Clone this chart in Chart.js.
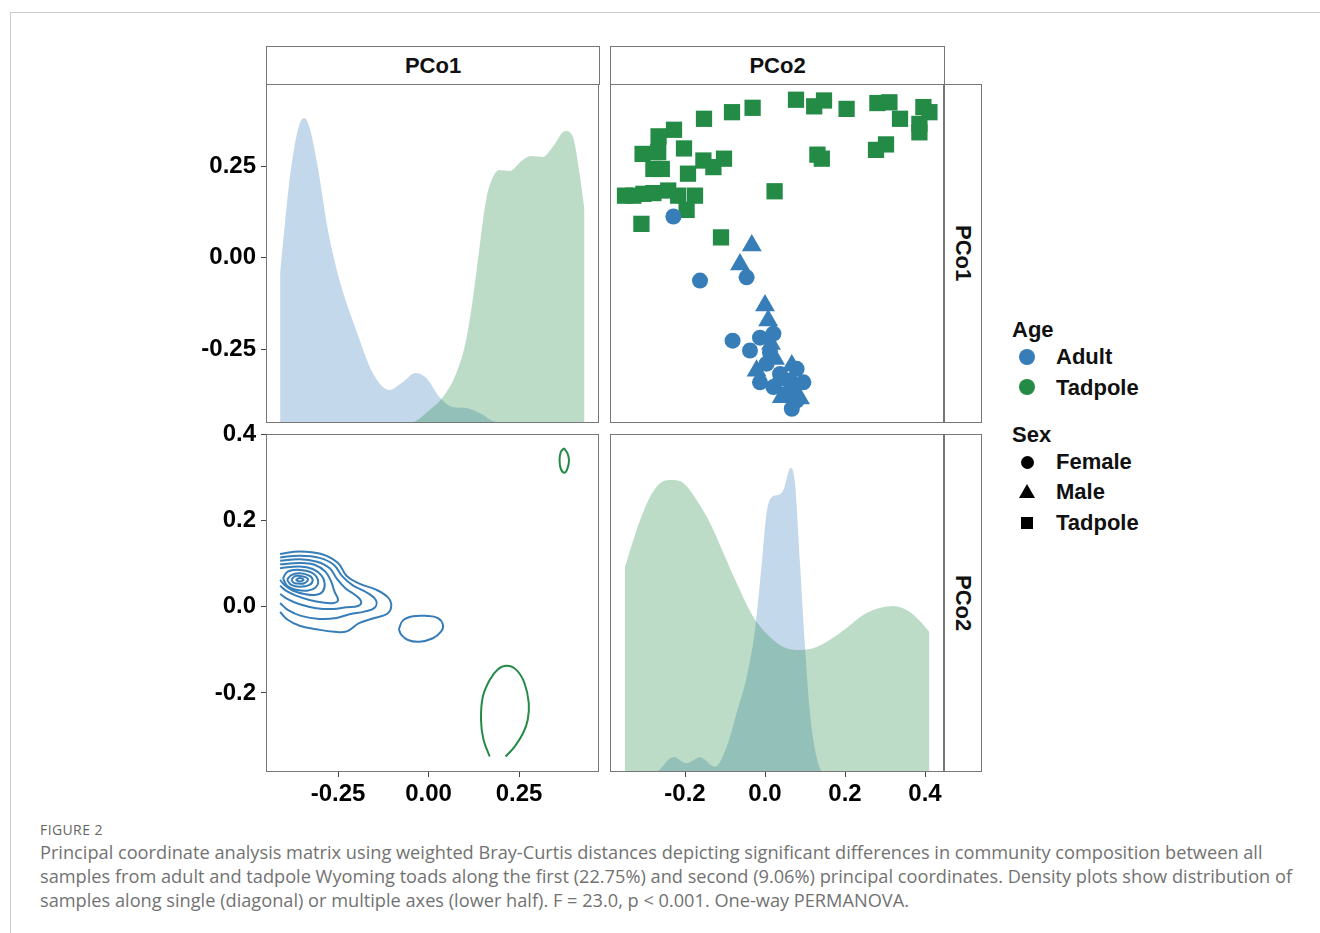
<!DOCTYPE html>
<html lang="en">
<head>
<meta charset="UTF-8">
<title>Figure 2 - PCoA matrix</title>
<script src="https://cdn.jsdelivr.net/npm/chart.js@4"></script>
<style>
  body { margin: 0; background: #fff; font-family: "Liberation Sans", Arial, sans-serif; }
  #page { position: relative; width: 1320px; height: 933px; overflow: hidden; }
  .outer { position: absolute; left: 10px; top: 12px; width: 1320px; height: 940px;
           border-left: 1px solid #cbcbcb; border-top: 1px solid #cbcbcb; }
  canvas { position: absolute; }
  .strip { position: absolute; box-sizing: border-box; border: 1px solid #777; background: #fff;
           font-weight: bold; font-size: 22px; color: #111;
           display: flex; align-items: center; justify-content: center; }
  .strip.side span { writing-mode: vertical-rl; }
  .leg { position: absolute; font-weight: bold; font-size: 22px; line-height: 26px; color: #111; white-space: nowrap; }
  .sym { position: absolute; }
  .caption { position: absolute; left: 40px; font-family: "Open Sans", sans-serif; color: #727272; white-space: nowrap; }
</style>
</head>
<body>
<div id="page">
  <div class="outer"></div>

  <canvas id="cTL"></canvas>
  <canvas id="cTR"></canvas>
  <canvas id="cBL"></canvas>
  <canvas id="cBR"></canvas>

  <div class="strip" style="left:266px;top:46px;width:334px;height:39px">PCo1</div>
  <div class="strip" style="left:610px;top:46px;width:335px;height:39px">PCo2</div>
  <div class="strip side" style="left:944px;top:84px;width:38px;height:339px"><span>PCo1</span></div>
  <div class="strip side" style="left:944px;top:434px;width:38px;height:338px"><span>PCo2</span></div>

  <!-- legend -->
  <div class="leg" style="left:1012px;top:317px">Age</div>
  <div class="sym" style="left:1019px;top:349px;width:16px;height:16px;border-radius:50%;background:#377EB8"></div>
  <div class="leg" style="left:1056px;top:344px">Adult</div>
  <div class="sym" style="left:1019px;top:379px;width:16px;height:16px;border-radius:50%;background:#238B45"></div>
  <div class="leg" style="left:1056px;top:375px">Tadpole</div>

  <div class="leg" style="left:1012px;top:422px">Sex</div>
  <div class="sym" style="left:1021px;top:456px;width:13px;height:13px;border-radius:50%;background:#000"></div>
  <div class="leg" style="left:1056px;top:449px">Female</div>
  <div class="sym" style="left:1019px;top:484px;width:0;height:0;border-left:8px solid transparent;border-right:8px solid transparent;border-bottom:14px solid #000"></div>
  <div class="leg" style="left:1056px;top:479px">Male</div>
  <div class="sym" style="left:1021px;top:517px;width:12px;height:12px;background:#000"></div>
  <div class="leg" style="left:1056px;top:510px">Tadpole</div>

  <div class="caption" style="top:820px;font-size:14px;letter-spacing:0.4px;color:#666">FIGURE 2</div>
  <div class="caption" style="top:840px;font-size:18.2px;line-height:24px">
    Principal coordinate analysis matrix using weighted Bray-Curtis distances depicting significant differences in community composition between all<br>
    samples from adult and tadpole Wyoming toads along the first (22.75%) and second (9.06%) principal coordinates. Density plots show distribution of<br>
    samples along single (diagonal) or multiple axes (lower half). F = 23.0, p &lt; 0.001. One-way PERMANOVA.
  </div>
</div>

<script>
  // axis ranges and ticks
  const pco1Range = [-0.449, 0.471];
  const pco1RangeY = [-0.452, 0.474];
  const pco2Range = [-0.3875, 0.4475];
  const pco2RangeY = [-0.384, 0.402];
  const pco1Ticks = [-0.25, 0, 0.25];
  const pco1Labels = ['-0.25', '0.00', '0.25'];
  const pco2Ticks = [-0.2, 0, 0.2, 0.4];
  const pco2Labels = ['-0.2', '0.0', '0.2', '0.4'];

  // densities [value, density]
  const pco1AdultDens = [[-0.410,1.50],[-0.384,2.43],[-0.361,2.93],[-0.344,3.05],[-0.329,2.96],[-0.306,2.56],
    [-0.278,1.93],[-0.246,1.43],[-0.200,0.93],[-0.154,0.50],[-0.108,0.33],[-0.071,0.41],[-0.036,0.50],
    [-0.006,0.45],[0.030,0.26],[0.067,0.16],[0.104,0.15],[0.141,0.10],[0.187,0.01],[0.25,0],[0.431,0]];
  const pco1TadpoleDens = [[-0.410,0],[-0.052,0],[0.003,0.13],[0.040,0.26],[0.077,0.50],[0.104,0.83],
    [0.122,1.23],[0.141,1.76],[0.159,2.23],[0.178,2.46],[0.196,2.53],[0.224,2.52],[0.260,2.63],[0.284,2.67],
    [0.316,2.66],[0.343,2.76],[0.378,2.92],[0.399,2.86],[0.417,2.50],[0.431,2.13]];
  const pco2AdultDens = [[-0.35,0],[-0.275,0],[-0.229,0.15],[-0.196,0.087],[-0.1625,0.147],[-0.125,0.053],
    [-0.096,0.25],[-0.071,0.59],[-0.046,0.95],[-0.025,1.42],[-0.008,2.09],[0.004,2.59],[0.017,2.75],
    [0.033,2.77],[0.046,2.82],[0.064,3.04],[0.075,2.89],[0.0875,2.09],[0.1,1.25],[0.1125,0.59],
    [0.129,0.15],[0.146,0],[0.411,0]];
  const pco2TadpoleDens = [[-0.35,2.05],[-0.321,2.42],[-0.2875,2.75],[-0.258,2.90],[-0.233,2.92],
    [-0.204,2.89],[-0.171,2.72],[-0.1375,2.49],[-0.104,2.19],[-0.071,1.89],[-0.029,1.55],[0.0125,1.35],
    [0.046,1.25],[0.0875,1.22],[0.129,1.25],[0.1875,1.39],[0.254,1.59],[0.321,1.66],[0.3625,1.60],
    [0.392,1.49],[0.411,1.40]];

  // scatter points [PCo2, PCo1]
  const tadpolePts = [[0.0775,0.431],[0.1475,0.429],[0.123,0.413],[0.204,0.406],[0.281,0.422],[0.311,0.424],
    [0.3375,0.379],[0.396,0.411],[0.411,0.397],[0.386,0.365],[0.386,0.342],[-0.031,0.409],[-0.0825,0.397],
    [-0.1525,0.379],[-0.2275,0.349],[-0.266,0.331],[-0.2025,0.298],[-0.306,0.283],[-0.267,0.288],
    [-0.279,0.242],[-0.258,0.242],[-0.154,0.265],[-0.1025,0.270],[-0.129,0.247],[-0.1925,0.229],
    [0.131,0.281],[0.142,0.270],[0.2775,0.294],[0.3025,0.309],[-0.35,0.169],[-0.329,0.169],[-0.304,0.174],
    [-0.279,0.176],[-0.242,0.183],[-0.217,0.169],[-0.175,0.169],[-0.196,0.130],[0.024,0.181],
    [-0.309,0.092],[-0.11,0.055]];
  const femalePts = [[-0.229,0.112],[-0.1625,-0.063],[-0.046,-0.054],[-0.081,-0.227],[-0.0375,-0.254],
    [-0.0125,-0.219],[0.021,-0.208],[0.079,-0.304],[0.096,-0.341],[-0.0125,-0.341],[0.021,-0.354],
    [0.067,-0.413],[0.079,-0.391],[0.054,-0.372],[0.004,-0.290],[0.0375,-0.318],[0.0125,-0.260],[0.0625,-0.336]];
  const malePts = [[-0.033,0.033],[-0.0625,-0.019],[0.0,-0.131],[0.008,-0.172],[0.015,-0.236],[0.025,-0.277],
    [-0.021,-0.309],[0.067,-0.295],[0.042,-0.382],[0.071,-0.363],[0.0875,-0.385],[0.0325,-0.336]];

  // 2d density contour lines [PCo1, PCo2]
  const adultContours = [
    [[-0.410,0.123],[-0.356,0.129],[-0.296,0.123],[-0.250,0.102],[-0.226,0.072],[-0.191,0.054],[-0.145,0.040],
     [-0.112,0.022],[-0.103,0.002],[-0.114,-0.016],[-0.149,-0.026],[-0.192,-0.038],[-0.226,-0.057],
     [-0.260,-0.058],[-0.310,-0.052],[-0.356,-0.044],[-0.389,-0.030],[-0.410,-0.012]],
    [[-0.410,0.115],[-0.356,0.119],[-0.301,0.114],[-0.262,0.098],[-0.238,0.071],[-0.209,0.050],[-0.172,0.034],
     [-0.145,0.015],[-0.149,-0.002],[-0.177,-0.011],[-0.218,-0.017],[-0.255,-0.026],[-0.301,-0.028],
     [-0.352,-0.021],[-0.389,-0.007],[-0.410,0.009]],
    [[-0.410,0.107],[-0.356,0.111],[-0.308,0.105],[-0.273,0.090],[-0.253,0.065],[-0.229,0.043],[-0.200,0.026],
     [-0.186,0.012],[-0.195,0.002],[-0.226,-0.001],[-0.264,-0.005],[-0.310,-0.003],[-0.356,0.006],
     [-0.389,0.018],[-0.410,0.030]],
    [[-0.410,0.099],[-0.356,0.102],[-0.315,0.098],[-0.285,0.082],[-0.269,0.059],[-0.260,0.036],[-0.250,0.016],
     [-0.262,0.009],[-0.292,0.010],[-0.329,0.016],[-0.366,0.026],[-0.393,0.037],[-0.410,0.049]],
    [[-0.410,0.090],[-0.356,0.094],[-0.320,0.088],[-0.296,0.073],[-0.287,0.055],[-0.292,0.036],[-0.310,0.028],
     [-0.343,0.030],[-0.375,0.038],[-0.398,0.051],[-0.410,0.063]],
    [[-0.402,0.067],[-0.389,0.082],[-0.356,0.086],[-0.324,0.080],[-0.306,0.064],[-0.310,0.047],[-0.333,0.038],
     [-0.366,0.040],[-0.391,0.049],[-0.402,0.067]],
    [[-0.391,0.063],[-0.379,0.074],[-0.356,0.078],[-0.331,0.073],[-0.320,0.063],[-0.329,0.051],[-0.356,0.047],
     [-0.379,0.051],[-0.391,0.063]],
    [[-0.379,0.063],[-0.370,0.071],[-0.356,0.072],[-0.340,0.069],[-0.333,0.063],[-0.343,0.055],[-0.356,0.054],
     [-0.372,0.056],[-0.379,0.063]],
    [[-0.367,0.063],[-0.356,0.067],[-0.345,0.063],[-0.356,0.059],[-0.367,0.063]],
    [[-0.082,-0.052],[-0.071,-0.032],[-0.043,-0.022],[-0.006,-0.021],[0.026,-0.026],[0.040,-0.042],
     [0.035,-0.057],[0.012,-0.073],[-0.025,-0.081],[-0.057,-0.077],[-0.075,-0.065],[-0.082,-0.052]]
  ];
  const tadpoleContours = [
    [[0.374,0.369],[0.384,0.357],[0.388,0.340],[0.384,0.322],[0.376,0.312],[0.366,0.320],[0.362,0.340],
     [0.365,0.359],[0.374,0.369]],
    [[0.169,-0.348],[0.152,-0.309],[0.145,-0.263],[0.150,-0.209],[0.169,-0.170],[0.192,-0.145],[0.216,-0.137],
     [0.242,-0.146],[0.265,-0.177],[0.277,-0.224],[0.274,-0.263],[0.261,-0.294],[0.238,-0.325],[0.213,-0.348]]
  ];

  const ADULT = '#377EB8', TADPOLE = '#238B45';
  const ADULT_FILL = 'rgba(55,126,184,0.3)', TADPOLE_FILL = 'rgba(35,139,69,0.3)';
  const PAD = 20, YAXIS = 70, XAXIS = 40;
  const tickFont = { family: 'Liberation Sans', size: 24, weight: 'bold' };

  const toXY = arr => arr.map(p => ({ x: p[0], y: p[1] }));

  // panel border like ggplot theme_bw
  const framePlugin = {
    id: 'frame',
    afterDatasetsDraw(chart) {
      const a = chart.chartArea, ctx = chart.ctx;
      ctx.save();
      ctx.strokeStyle = '#777';
      ctx.lineWidth = 1;
      ctx.strokeRect(a.left + 0.5, a.top + 0.5, a.width - 1, a.height - 1);
      ctx.restore();
    }
  };

  function hidden(min, max, axis) {
    return { type: 'linear', axis: axis, display: false, min: min, max: max };
  }

  function shown(range, ticks, labels, position) {
    const isX = position === 'bottom';
    return {
      type: 'linear', position: position, axis: isX ? 'x' : 'y', min: range[0], max: range[1],
      afterBuildTicks: s => { s.ticks = ticks.map(v => ({ value: v })); },
      afterFit: s => { if (isX) s.height = XAXIS; else s.width = YAXIS; },
      ticks: { font: tickFont, color: '#000', padding: isX ? 3 : 5, maxRotation: 0,
               callback: (v, i) => labels[i] },
      grid: { drawOnChartArea: false, drawTicks: true, tickLength: 5, color: '#444', tickColor: '#444' },
      border: { display: false }
    };
  }

  // place the canvas so that its chart area lands on the panel box
  function makeChart(id, box, hasY, hasX, config) {
    const c = document.getElementById(id);
    const w = box[2] - box[0] + 2 * PAD + (hasY ? YAXIS : 0);
    const h = box[3] - box[1] + 2 * PAD + (hasX ? XAXIS : 0);
    c.width = w; c.height = h;
    c.style.left = (box[0] - PAD - (hasY ? YAXIS : 0)) + 'px';
    c.style.top = (box[1] - PAD) + 'px';
    c.style.width = w + 'px'; c.style.height = h + 'px';
    config.options = Object.assign({
      responsive: false, animation: false, devicePixelRatio: 1, events: [],
      layout: { padding: PAD },
      plugins: { legend: { display: false }, tooltip: { enabled: false } }
    }, config.options);
    config.plugins = [framePlugin];
    return new Chart(c, config);
  }

  function densSet(data, fill) {
    return { data: toXY(data), yAxisID: 'yd', fill: 'origin', backgroundColor: fill, borderWidth: 0,
             pointRadius: 0, cubicInterpolationMode: 'monotone' };
  }

  // top-left: PCo1 density
  makeChart('cTL', [266, 84, 599, 423], true, false, {
    type: 'line',
    data: { datasets: [densSet(pco1TadpoleDens, TADPOLE_FILL), densSet(pco1AdultDens, ADULT_FILL)] },
    options: { scales: {
      x: hidden(pco1Range[0], pco1Range[1], 'x'),
      yd: hidden(0, 3.39, 'y'),
      y: shown(pco1RangeY, pco1Ticks, pco1Labels, 'left')
    } }
  });

  // top-right: PCo2 vs PCo1 scatter
  makeChart('cTR', [610, 84, 944, 423], false, false, {
    type: 'scatter',
    data: { datasets: [
      { label: 'Female', data: toXY(femalePts), pointStyle: 'circle', pointRadius: 8, backgroundColor: ADULT, borderWidth: 0 },
      { label: 'Male', data: toXY(malePts), pointStyle: 'triangle', pointRadius: 11.5, backgroundColor: ADULT, borderWidth: 0 },
      { label: 'Tadpole', data: toXY(tadpolePts), pointStyle: 'rect', pointRadius: 11.5, backgroundColor: TADPOLE, borderWidth: 0 }
    ] },
    options: { scales: {
      x: hidden(pco2Range[0], pco2Range[1], 'x'),
      y: hidden(pco1RangeY[0], pco1RangeY[1], 'y')
    } }
  });

  // bottom-left: 2d density contours
  const contourSets = [];
  adultContours.forEach(p => contourSets.push({ data: toXY(p), borderColor: ADULT, borderWidth: 2, pointRadius: 0, showLine: true, tension: 0.4, fill: false }));
  tadpoleContours.forEach(p => contourSets.push({ data: toXY(p), borderColor: TADPOLE, borderWidth: 2, pointRadius: 0, showLine: true, tension: 0.4, fill: false }));
  makeChart('cBL', [266, 434, 599, 772], true, true, {
    type: 'scatter',
    data: { datasets: contourSets },
    options: { scales: {
      x: shown(pco1Range, pco1Ticks, pco1Labels, 'bottom'),
      y: shown(pco2RangeY, pco2Ticks, pco2Labels, 'left')
    } }
  });

  // bottom-right: PCo2 density
  makeChart('cBR', [610, 434, 944, 772], false, true, {
    type: 'line',
    data: { datasets: [densSet(pco2TadpoleDens, TADPOLE_FILL), densSet(pco2AdultDens, ADULT_FILL)] },
    options: { scales: {
      x: shown(pco2Range, pco2Ticks, pco2Labels, 'bottom'),
      yd: hidden(0, 3.38, 'y')
    } }
  });
</script>
</body>
</html>
